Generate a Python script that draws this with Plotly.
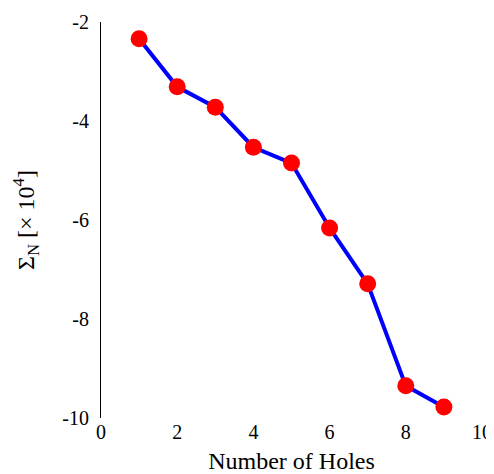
import plotly.graph_objects as go

holes = [1, 2, 3, 4, 5, 6, 7, 8, 9]
sigma_n = [-2.34, -3.31, -3.72, -4.53, -4.85, -6.16, -7.29, -9.35, -9.78]

x_ticks = [0, 2, 4, 6, 8, 10]
y_ticks = [-10, -8, -6, -4, -2]
y_ticklabels = ["-10", "-8", "-6", "-4", "-2"]

family = "Liberation Serif, Times New Roman, serif"
tick_font = dict(family=family, size=20, color="black")
title_font = dict(family=family, size=24, color="black")

fig = go.Figure()
fig.add_trace(go.Scatter(
    x=holes, y=sigma_n, mode="lines+markers",
    line=dict(color="#0000ff", width=4),
    marker=dict(color="#ff0000", size=17),
    cliponaxis=False,
))

fig.update_layout(
    width=486, height=466,
    margin=dict(l=93, r=12, t=14, b=56),
    paper_bgcolor="white", plot_bgcolor="white",
    showlegend=False,
    font=tick_font,
    xaxis=dict(
        range=[0, 10], tickvals=x_ticks, showgrid=False, zeroline=False,
        showline=False, ticks="", automargin=False, tickfont=tick_font,
        ticklabeloverflow="allow",
        title=dict(text="Number of Holes", font=title_font, standoff=10),
    ),
    yaxis=dict(
        range=[-10, -2], tickvals=y_ticks, ticktext=y_ticklabels,
        showgrid=False, zeroline=False, showline=True, linecolor="black",
        linewidth=1, ticks="", automargin=False, tickfont=tick_font,
        ticklabelstandoff=7,
        title=dict(text="Σ<sub>N</sub> [× 10<sup>4</sup>]", font=title_font, standoff=20),
    ),
)
fig.write_html("out.html")
